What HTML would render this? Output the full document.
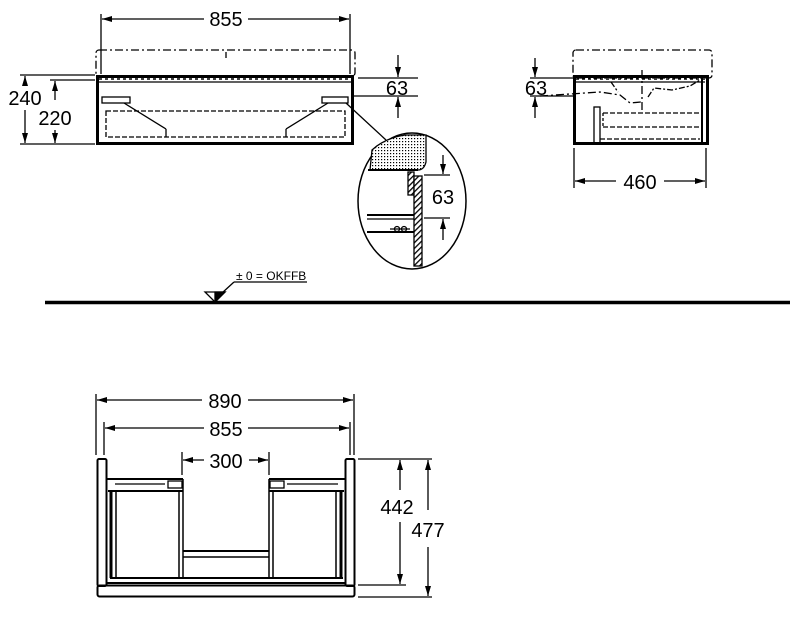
<!DOCTYPE html>
<html><head><meta charset="utf-8"><style>
html,body{margin:0;padding:0;background:#fff;}
svg{display:block;}
text{font-family:"Liberation Sans",sans-serif;fill:#000;}
</style></head><body>
<svg width="799" height="633" viewBox="0 0 799 633" xmlns="http://www.w3.org/2000/svg">
<defs>
<marker id="a" viewBox="0 0 10 6" refX="10" refY="3" markerWidth="10" markerHeight="6" orient="auto-start-reverse" markerUnits="userSpaceOnUse"><path d="M0,0 L10,3 L0,6 Z" fill="#000"/></marker>
<pattern id="dots" width="3" height="3" patternUnits="userSpaceOnUse"><rect width="3" height="3" fill="#fff"/><rect width="1.2" height="1.2" fill="#000"/></pattern>
<pattern id="hatch" width="4" height="4" patternUnits="userSpaceOnUse" patternTransform="rotate(45)"><rect width="4" height="4" fill="#fff"/><rect width="1.3" height="4" fill="#000"/></pattern>
</defs>
<g stroke="#000" fill="none" stroke-width="1.3">
<line x1="101" y1="14" x2="101" y2="74"/><line x1="350" y1="14" x2="350" y2="74"/>
<line x1="102" y1="19" x2="204" y2="19" marker-start="url(#a)"/>
<line x1="248" y1="19" x2="349" y2="19" marker-end="url(#a)"/>
<rect x="96" y="50" width="259" height="26" rx="3" stroke-dasharray="8,3,2,3"/>
<line x1="226" y1="52" x2="226" y2="58"/>
<rect x="97.5" y="76.5" width="255" height="67" stroke-width="3"/>
<line x1="99" y1="79" x2="351" y2="79" stroke-dasharray="3,3" stroke-width="1.5"/>
<line x1="99" y1="82" x2="351" y2="82"/>
<rect x="102" y="97" width="28" height="6"/><rect x="322" y="97" width="26" height="6"/>
<rect x="106" y="111" width="239" height="26" stroke-dasharray="5,2"/>
<line x1="124" y1="103" x2="166" y2="129"/><line x1="166" y1="129" x2="166" y2="137"/>
<line x1="328" y1="103" x2="286" y2="129"/><line x1="286" y1="129" x2="286" y2="137"/>
<line x1="346" y1="103" x2="386" y2="140"/>
<line x1="20" y1="75" x2="95" y2="75"/><line x1="20" y1="144" x2="95" y2="144"/><line x1="50" y1="80" x2="95" y2="80"/>
<line x1="25" y1="85" x2="25" y2="76" marker-end="url(#a)"/><line x1="25" y1="110" x2="25" y2="143" marker-end="url(#a)"/>
<line x1="55" y1="100" x2="55" y2="81" marker-end="url(#a)"/><line x1="55" y1="130" x2="55" y2="143" marker-end="url(#a)"/>
<line x1="358" y1="78" x2="418" y2="78"/><line x1="354" y1="96" x2="418" y2="96"/>
<line x1="398" y1="55" x2="398" y2="77" marker-end="url(#a)"/><line x1="398" y1="118" x2="398" y2="97" marker-end="url(#a)"/>
<ellipse cx="412" cy="201" rx="54" ry="68" stroke-width="1.5"/>
<path d="M372,150 Q385,138 405,135 L426,135 L426,162 Q424,170 418,170 L370,170 Z" fill="url(#dots)"/>
<line x1="368" y1="170" x2="418" y2="170" stroke-width="2"/>
<rect x="408" y="172" width="6" height="23" fill="url(#hatch)"/>
<rect x="414" y="176" width="8" height="90" fill="url(#hatch)"/>
<line x1="367" y1="215" x2="414" y2="215" stroke-width="2"/><line x1="367" y1="219" x2="414" y2="219"/>
<line x1="367" y1="232" x2="414" y2="232" stroke-width="2"/>
<circle cx="397" cy="229" r="2.5"/><circle cx="404" cy="229" r="2.5"/><line x1="390" y1="229" x2="410" y2="229"/>
<line x1="424" y1="175" x2="450" y2="175"/><line x1="424" y1="218" x2="450" y2="218"/>
<line x1="443" y1="155" x2="443" y2="174" marker-end="url(#a)"/><line x1="443" y1="240" x2="443" y2="219" marker-end="url(#a)"/>
<rect x="573" y="50" width="139" height="28" rx="3" stroke-dasharray="8,3,2,3"/>
<rect x="574.5" y="76.5" width="133" height="67" stroke-width="3"/>
<line x1="576" y1="79" x2="705" y2="79" stroke-dasharray="3,3" stroke-width="1.5"/>
<line x1="576" y1="82" x2="705" y2="82"/>
<line x1="702" y1="78" x2="702" y2="143" stroke-width="2"/>
<line x1="642" y1="70" x2="642" y2="113" stroke-dasharray="8,3,2,3"/>
<path d="M540,96 L600,92 L620,95 L630,103 L641,102" stroke-dasharray="8,3,2,3"/>
<path d="M611,82 L618,92 M648,97 L654,88 L672,90 L690,86 L700,80" stroke-dasharray="6,2,2,2"/>
<rect x="594" y="107" width="6" height="36"/>
<line x1="603" y1="113" x2="700" y2="113" stroke-dasharray="5,2"/>
<line x1="603" y1="127" x2="700" y2="127" stroke-dasharray="5,2"/>
<line x1="600" y1="139" x2="700" y2="139" stroke-dasharray="5,2"/>
<line x1="603" y1="113" x2="603" y2="127" stroke-dasharray="3,2"/>
<line x1="530" y1="78" x2="573" y2="78"/><line x1="530" y1="96" x2="573" y2="96"/>
<line x1="535" y1="58" x2="535" y2="77" marker-end="url(#a)"/><line x1="535" y1="118" x2="535" y2="97" marker-end="url(#a)"/>
<line x1="574" y1="148" x2="574" y2="188"/><line x1="706" y1="148" x2="706" y2="188"/>
<line x1="575" y1="181" x2="616" y2="181" marker-start="url(#a)"/><line x1="664" y1="181" x2="705" y2="181" marker-end="url(#a)"/>
<line x1="45" y1="302.5" x2="790" y2="302.5" stroke-width="3.5"/>
<path d="M205,292 L225,292 L215,302 Z" fill="#fff"/>
<path d="M215,292 L225,292 L215,302 Z" fill="#000"/>
<line x1="222" y1="293" x2="234" y2="282"/><line x1="234" y1="282" x2="307" y2="282"/>
<line x1="96" y1="394" x2="96" y2="455"/><line x1="354" y1="394" x2="354" y2="455"/>
<line x1="104" y1="422" x2="104" y2="455"/><line x1="350" y1="422" x2="350" y2="455"/>
<line x1="97" y1="400" x2="202" y2="400" marker-start="url(#a)"/><line x1="248" y1="400" x2="353" y2="400" marker-end="url(#a)"/>
<line x1="105" y1="428" x2="204" y2="428" marker-start="url(#a)"/><line x1="248" y1="428" x2="349" y2="428" marker-end="url(#a)"/>
<line x1="182" y1="452" x2="182" y2="475"/><line x1="269" y1="452" x2="269" y2="475"/>
<line x1="183" y1="460" x2="204" y2="460" marker-start="url(#a)"/><line x1="249" y1="460" x2="268" y2="460" marker-end="url(#a)"/>
<rect x="97.5" y="459" width="9" height="127" rx="1.5" stroke-width="2"/>
<rect x="345.5" y="459" width="9" height="127" rx="1.5" stroke-width="2"/>
<rect x="97.5" y="585.5" width="257" height="11" rx="2" stroke-width="2"/>
<line x1="106" y1="583" x2="346" y2="583" stroke-width="2"/>
<line x1="110" y1="578" x2="343" y2="578" stroke-width="2"/>
<line x1="107" y1="479" x2="183" y2="479" stroke-width="2"/>
<line x1="269" y1="479" x2="345" y2="479" stroke-width="2"/>
<line x1="108" y1="491" x2="183" y2="491" stroke-width="2"/>
<line x1="269" y1="491" x2="344" y2="491" stroke-width="2"/>
<rect x="168" y="481" width="14" height="7"/><rect x="270" y="481" width="14" height="7"/>
<line x1="115" y1="484" x2="165" y2="484"/><line x1="287" y1="484" x2="338" y2="484"/>
<line x1="111" y1="492" x2="111" y2="578" stroke-width="3"/><line x1="116" y1="492" x2="116" y2="578" stroke-width="1.5"/>
<line x1="179" y1="492" x2="179" y2="578" stroke-width="1.5"/><line x1="183" y1="479" x2="183" y2="578" stroke-width="1.5"/>
<line x1="269" y1="479" x2="269" y2="578" stroke-width="1.5"/><line x1="273" y1="492" x2="273" y2="578" stroke-width="1.5"/>
<line x1="336" y1="492" x2="336" y2="578" stroke-width="1.5"/><line x1="341" y1="492" x2="341" y2="578" stroke-width="3"/>
<line x1="183" y1="551" x2="269" y2="551" stroke-width="2"/><line x1="183" y1="557" x2="269" y2="557" stroke-width="1.5"/>
<line x1="358" y1="459" x2="432" y2="459"/><line x1="358" y1="585" x2="406" y2="585"/><line x1="358" y1="597" x2="432" y2="597"/>
<line x1="400" y1="490" x2="400" y2="460" marker-end="url(#a)"/><line x1="400" y1="522" x2="400" y2="584" marker-end="url(#a)"/>
<line x1="428" y1="510" x2="428" y2="460" marker-end="url(#a)"/><line x1="428" y1="547" x2="428" y2="596" marker-end="url(#a)"/>
</g>
<g font-size="20">
<text x="226" y="26" text-anchor="middle">855</text>
<text x="25" y="105" text-anchor="middle">240</text>
<text x="55" y="125" text-anchor="middle">220</text>
<text x="397" y="95" text-anchor="middle">63</text>
<text x="443" y="204" text-anchor="middle">63</text>
<text x="536" y="95" text-anchor="middle">63</text>
<text x="640" y="189" text-anchor="middle">460</text>
<text x="225" y="408" text-anchor="middle">890</text>
<text x="226" y="436" text-anchor="middle">855</text>
<text x="226" y="468" text-anchor="middle">300</text>
<text x="397" y="514" text-anchor="middle">442</text>
<text x="428" y="537" text-anchor="middle">477</text>
</g>
<text x="236" y="280" font-size="12">± 0 = OKFFB</text>
</svg>
</body></html>
